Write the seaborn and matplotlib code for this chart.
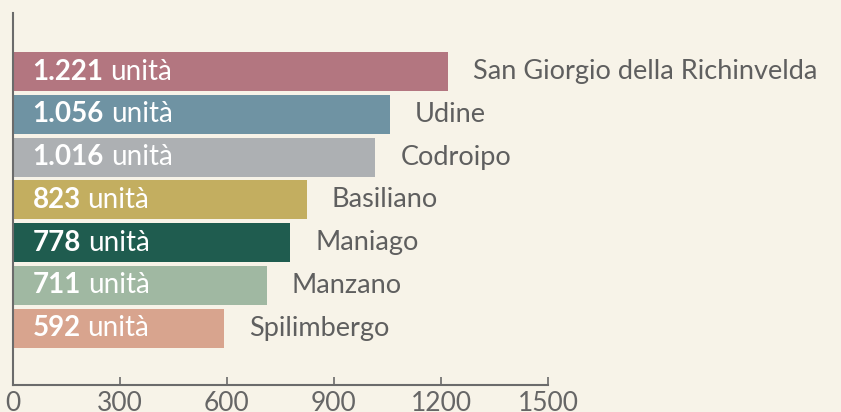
import matplotlib
matplotlib.use("Agg")
import matplotlib.pyplot as plt
import seaborn as sns
import pandas as pd

cities = ["San Giorgio della Richinvelda", "Udine", "Codroipo", "Basiliano",
          "Maniago", "Manzano", "Spilimbergo"]
values = [1221, 1056, 1016, 823, 778, 711, 592]
value_labels = ["1.221", "1.056", "1.016", "823", "778", "711", "592"]
colors = ["#b37680", "#6f93a3", "#adb0b3", "#c3ae60", "#1f5c4f", "#a0b8a2", "#d8a48e"]
xticks = [0, 300, 600, 900, 1200, 1500]

bg = "#f7f3e8"
sns.set_theme(style="white")
plt.rcParams["font.family"] = ["Lato", "DejaVu Sans"]

df = pd.DataFrame({"city": cities, "value": values})

fig = plt.figure(figsize=(8.41, 4.12), dpi=100, facecolor=bg)
ax = fig.add_axes([13 / 841, (412 - 385) / 412, (548 - 13) / 841, (385 - 13) / 412])
ax.set_facecolor(bg)

sns.barplot(data=df, x="value", y="city", hue="city", palette=colors,
            saturation=1, width=0.91, legend=False, orient="h", ax=ax,
            linewidth=0, edgecolor="none")

ax.set_xlim(0, 1500)
ax.set_ylim(7.33, -1.37)
ax.set_xticks(xticks)
ax.set_xticklabels([str(t) for t in xticks])
ax.set_yticks([])
ax.set_xlabel("")
ax.set_ylabel("")
for s in ["top", "right"]:
    ax.spines[s].set_visible(False)
for s in ["left", "bottom"]:
    ax.spines[s].set_color("#6b6b6b")
    ax.spines[s].set_linewidth(1.5)
ax.tick_params(axis="x", direction="in", length=6, width=1.2, color="#6b6b6b",
               labelsize=19, labelcolor="#666666", pad=4, bottom=True)

for i, (v, lab, city) in enumerate(zip(values, value_labels, cities)):
    t = ax.annotate(lab, xy=(0, i), xytext=(14, 0), textcoords="offset points",
                    ha="left", va="center", fontsize=20, fontweight="bold", color="white")
    ax.annotate("unità", xy=(1, 0), xycoords=t, xytext=(5, 0),
                textcoords="offset points", ha="left", va="bottom",
                fontsize=20, color="white")
    ax.annotate(city, xy=(v, i), xytext=(18, 0), textcoords="offset points",
                ha="left", va="center", fontsize=19.5, color="#5f5f5f",
                annotation_clip=False)

fig.savefig("out.png", dpi=100, facecolor=bg)
